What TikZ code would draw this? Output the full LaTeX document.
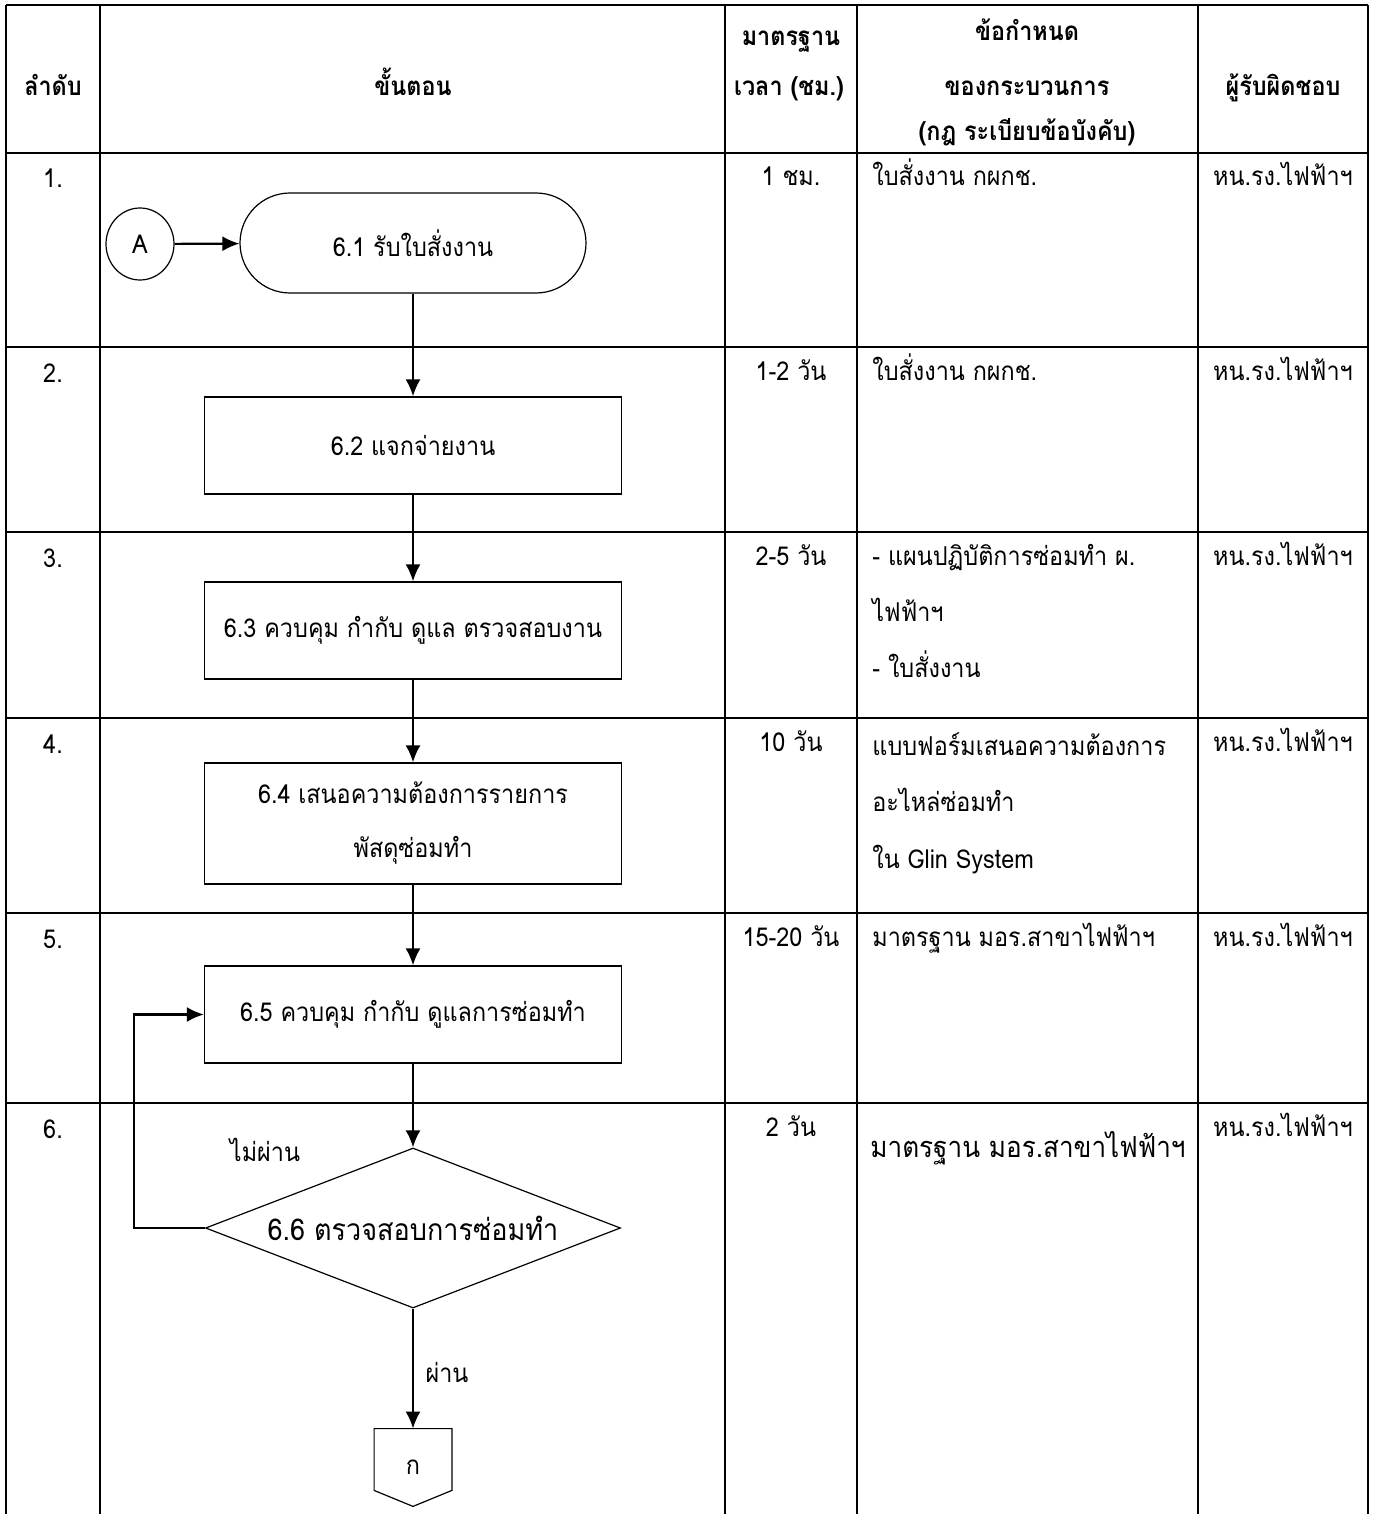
\documentclass[tikz,border=0pt]{standalone}
\usepackage{fontspec}
\setmainfont[Script=Thai, FakeStretch=0.9]{Loma}
\usetikzlibrary{shapes.geometric,arrows,arrows.meta,positioning,calc}
\tikzstyle{Terminal} = [draw, rectangle, rounded corners=25pt, line width=0.6pt, minimum width=173pt, minimum height=50pt]
\tikzstyle{Process} = [draw, shape = rectangle, line width=0.6pt, minimum width=208.5pt, minimum height=48.5pt, align=center, font=\fontsize{13}{27}\selectfont]
\tikzstyle{Decision} = [draw, diamond, line width=0.6pt, inner sep=0pt, minimum width=207.5pt, minimum height=80pt]
\tikzstyle{Joint} = [draw, ellipse, line width=0.6pt, inner sep=0pt, minimum width=34pt, minimum height=36pt]
\tikzstyle{Connector} = [inner sep=0pt, minimum width=38.5pt, minimum height=38.5pt]
\tikzstyle{Arrow} = [-{Latex[length=8.5pt,width=7.5pt]}, line width=1.1pt]
\tikzstyle{Grid} = [line width=1pt]
\tikzstyle{Head} = [anchor=base, font=\fontsize{13}{16}\selectfont\bfseries]
\tikzstyle{Cell} = [anchor=base, inner sep=0pt]
\tikzstyle{Note} = [anchor=base west, inner sep=0pt]

\begin{document}
\begin{tikzpicture}[x=0.5pt,y=0.5pt]
        \tikzstyle{every node} = [font=\fontsize{13}{16}\selectfont]
        \useasboundingbox (0,0) rectangle (1375,-1514);

        %%%%% Table Grid %%%%%

        \draw[Grid] (6,-5) -- (1368,-5);
        \draw[Grid] (6,-153) -- (1368,-153);
        \draw[Grid] (6,-347) -- (1368,-347);
        \draw[Grid] (6,-532) -- (1368,-532);
        \draw[Grid] (6,-718) -- (1368,-718);
        \draw[Grid] (6,-913) -- (1368,-913);
        \draw[Grid] (6,-1103) -- (1368,-1103);
        \draw[Grid] (6,-5) -- (6,-1514);
        \draw[Grid] (100,-5) -- (100,-1514);
        \draw[Grid] (725,-5) -- (725,-1514);
        \draw[Grid] (857,-5) -- (857,-1514);
        \draw[Grid] (1198,-5) -- (1198,-1514);
        \draw[Grid] (1368,-5) -- (1368,-1514);

        %%%%% Header %%%%%

        \node[Head] (h1) at (53,-96) {ลำดับ};
        \node[Head] (h2) at (413,-96) {ขั้นตอน};
        \node[Head] (h3a) at (791,-46) {มาตรฐาน};
        \node[Head, anchor=base west] (h3b) at (727,-96) {เวลา (ชม.)};
        \node[Head] (h4a) at (1027,-41) {ข้อกำหนด};
        \node[Head] (h4b) at (1027,-96) {ของกระบวนการ};
        \node[Head] (h4c) at (1027,-141) {(กฎ ระเบียบข้อบังคับ)};
        \node[Head] (h5) at (1283,-96) {ผู้รับผิดชอบ};

        %%%%% Row Numbers %%%%%

        \node[Cell] (n1) at (53,-188) {1.};
        \node[Cell] (n2) at (53,-382) {2.};
        \node[Cell] (n3) at (53,-567) {3.};
        \node[Cell] (n4) at (53,-753) {4.};
        \node[Cell] (n5) at (53,-948) {5.};
        \node[Cell] (n6) at (53,-1138) {6.};

        %%%%% Time Column %%%%%

        \node[Cell] (t1) at (791,-186) {1 ชม.};
        \node[Cell] (t2) at (791,-380) {1-2 วัน};
        \node[Cell] (t3) at (791,-565) {2-5 วัน};
        \node[Cell] (t4) at (791,-751) {10 วัน};
        \node[Cell] (t5) at (791,-946) {15-20 วัน};
        \node[Cell] (t6) at (791,-1136) {2 วัน};

        %%%%% Rules Column %%%%%

        \node[Note] (r1) at (872,-186) {ใบสั่งงาน กผกช.};
        \node[Note] (r2) at (872,-380) {ใบสั่งงาน กผกช.};
        \node[Note] (r3a) at (872,-565) {- แผนปฏิบัติการซ่อมทำ ผ.};
        \node[Note] (r3b) at (872,-621) {ไฟฟ้าฯ};
        \node[Note] (r3c) at (872,-677) {- ใบสั่งงาน};
        \node[Note] (r4a) at (872,-755) {แบบฟอร์มเสนอความต้องการ};
        \node[Note] (r4b) at (872,-811) {อะไหล่ซ่อมทำ};
        \node[Note] (r4c) at (872,-868) {ใน Glin System};
        \node[Note] (r5) at (872,-946) {มาตรฐาน มอร.สาขาไฟฟ้าฯ};
        \node[Note, font=\fontsize{14.5}{18}\selectfont] (r6) at (870,-1157) {มาตรฐาน มอร.สาขาไฟฟ้าฯ};

        %%%%% Owner Column %%%%%

        \node[Cell] (p1) at (1283,-186) {หน.รง.ไฟฟ้าฯ};
        \node[Cell] (p2) at (1283,-380) {หน.รง.ไฟฟ้าฯ};
        \node[Cell] (p3) at (1283,-565) {หน.รง.ไฟฟ้าฯ};
        \node[Cell] (p4) at (1283,-751) {หน.รง.ไฟฟ้าฯ};
        \node[Cell] (p5) at (1283,-946) {หน.รง.ไฟฟ้าฯ};
        \node[Cell] (p6) at (1283,-1136) {หน.รง.ไฟฟ้าฯ};

        %%%%% Flow Steps %%%%%

        \draw node[Terminal] at (413,-243) (B) {6.1 รับใบสั่งงาน};
        \draw node[Joint] at ($(B)+(-273,-1)$) (A) {A};
        \draw node[Process] at ($(B)+(0,-202.5)$) (C) {6.2 แจกจ่ายงาน};
        \draw node[Process] at ($(C)+(0,-185)$) (D) {6.3 ควบคุม กำกับ ดูแล ตรวจสอบงาน};
        \draw node[Process, minimum height=60.5pt] at ($(D)+(0,-193)$) (E) {6.4 เสนอความต้องการรายการ\\พัสดุซ่อมทำ};
        \draw node[Process] at ($(E)+(0,-191)$) (F) {6.5 ควบคุม กำกับ ดูแลการซ่อมทำ};
        \draw node[Decision] at ($(F)+(0,-213.5)$) (G){};
        \node[align=center, font=\fontsize{15}{18}\selectfont] at (G) (Gt) {6.6 ตรวจสอบการซ่อมทำ};
        \node[Connector] at ($(G)+(0,-239.5)$) (H) {ก};
        \draw[line width=0.6pt] (H.north west) -- (H.north east) -- ($(H.south east)+(0,16)$) -- (H.south) -- ($(H.south west)+(0,16)$) -- cycle;

        \node at ($(G)+(-148,78)$) (no) {ไม่ผ่าน};
        \node at ($(G)+(34,-144)$) (yes) {ผ่าน};

        %%%%% Connecting Arrows %%%%%

        \draw [Arrow] (A) -- (B);
        \draw [Arrow] (B) -- (C);
        \draw [Arrow] (C) -- (D);
        \draw [Arrow] (D) -- (E);
        \draw [Arrow] (E) -- (F);
        \draw [Arrow] (F) -- (G);
        \draw [Arrow] (G) -- (H);
        \draw [Arrow] (G.west) -- ($(G.west)+(-71,0)$) |- (F.west);

\end{tikzpicture}
\end{document}
